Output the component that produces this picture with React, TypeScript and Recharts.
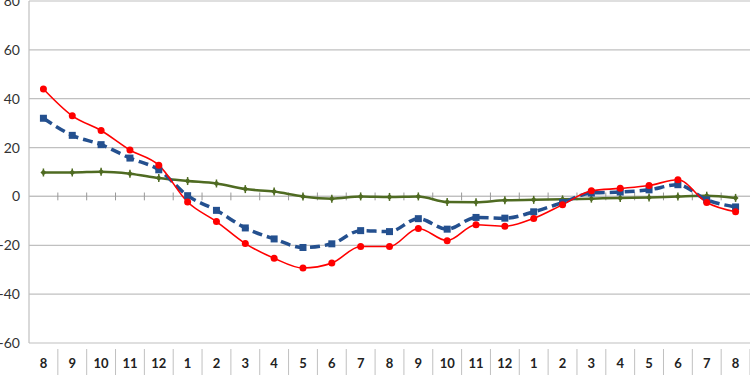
import React from "react";
import { LineChart, Line, XAxis, YAxis, CartesianGrid, ReferenceLine } from "recharts";

const months = ["8", "9", "10", "11", "12", "1", "2", "3", "4", "5", "6", "7", "8", "9", "10", "11", "12", "1", "2", "3", "4", "5", "6", "7", "8"];
const redSeries = [44, 33, 27, 19, 12.8, -2.3, -10.3, -19.3, -25.3, -29.3, -27.3, -20.5, -20.5, -13.1, -18.1, -11.6, -12.2, -9, -3.4, 2.3, 3.3, 4.5, 6.8, -2.5, -6.3];
const blueSeries = [32, 25, 21.2, 15.7, 10.9, 0.3, -5.7, -12.9, -17.4, -20.9, -19.4, -14, -14.4, -9.1, -13.4, -8.6, -8.9, -6.3, -2.5, 1.4, 1.8, 2.7, 4.8, -1.4, -4.3];
const greenSeries = [9.8, 9.8, 10.1, 9.3, 7.5, 6.3, 5.3, 3, 2, 0, -0.9, 0, -0.2, 0, -2.3, -2.4, -1.6, -1.4, -1.2, -0.9, -0.6, -0.4, 0, 0.3, -0.6];
const yTicks = [-60, -40, -20, 0, 20, 40, 60, 80];

const data = months.map((m, i) => ({
  x: i,
  label: m,
  red: redSeries[i],
  blue: blueSeries[i],
  green: greenSeries[i],
}));

const W = 750;
const H = 375;
const Y_AXIS_W = 29;
const X_AXIS_H = 32;
const STEP = (W - Y_AXIS_W) / months.length;
const GRID = "#c0c0c0";

function MonthTick(props: any) {
  const { x, y, payload } = props;
  const half = STEP / 2;
  return (
    <g>
      <line x1={x + half} y1={y - 2} x2={x + half} y2={y + X_AXIS_H} stroke={GRID} />
      <text x={x} y={y + 17} textAnchor="middle" fontFamily="Lato, 'Open Sans', sans-serif" fontWeight="bold" fontSize={13} fill="#222">
        {months[payload.value]}
      </text>
    </g>
  );
}

function GreenDot(props: any) {
  const { cx, cy } = props;
  if (cx == null || cy == null) return null;
  return (
    <g>
      <path d={`M${cx - 3},${cy} L${cx},${cy - 3} L${cx + 3},${cy} L${cx},${cy + 3} Z`} fill="#4f6b22" />
      <line x1={cx} y1={cy - 4} x2={cx} y2={cy + 4} stroke="#4f6b22" strokeWidth={1.5} />
    </g>
  );
}

function BlueDot(props: any) {
  const { cx, cy } = props;
  if (cx == null || cy == null) return null;
  return <rect x={cx - 3.5} y={cy - 3.5} width={7} height={7} fill="#24508f" />;
}

export default function App() {
  const boundaries = months.slice(1).map((_, i) => i + 0.5);
  return (
    <div style={{ position: "absolute", left: 0, top: 0 }}>
      <LineChart width={W} height={H} data={data} margin={{ top: 1, right: 0, bottom: 0, left: 0 }}>
        <CartesianGrid vertical={false} stroke={GRID} strokeWidth={1.2} />
        <XAxis
          dataKey="x"
          type="number"
          domain={[-0.5, months.length - 0.5]}
          ticks={data.map((d) => d.x)}
          interval={0}
          height={X_AXIS_H}
          axisLine={false}
          tickLine={false}
          tick={<MonthTick />}
        />
        <YAxis
          domain={[-60, 80]}
          ticks={yTicks}
          width={Y_AXIS_W}
          axisLine={{ stroke: GRID, strokeWidth: 1.2 }}
          tickLine={false}
          tick={{ fontSize: 14, fill: "#333", fontFamily: "Lato, 'Open Sans', sans-serif" }}
          tickMargin={3}
          interval={0}
        />
        <ReferenceLine y={0} stroke={GRID} strokeWidth={1.2} />
        {boundaries.map((b) => (
          <ReferenceLine
            key={b}
            segment={[{ x: b, y: -1.6 }, { x: b, y: 1.6 }]}
            stroke="#999"
          />
        ))}
        <Line
          dataKey="green"
          type="monotone"
          stroke="#4f6b22"
          strokeWidth={2.5}
          dot={<GreenDot />}
          isAnimationActive={false}
        />
        <Line
          dataKey="blue"
          type="monotone"
          stroke="#24508f"
          strokeWidth={3.5}
          strokeDasharray="10 5"
          dot={<BlueDot />}
          isAnimationActive={false}
        />
        <Line
          dataKey="red"
          type="monotone"
          stroke="#ff0000"
          strokeWidth={1.6}
          dot={{ r: 3.5, fill: "#ff0000", stroke: "#ff0000", strokeWidth: 0 }}
          isAnimationActive={false}
        />
      </LineChart>
    </div>
  );
}
